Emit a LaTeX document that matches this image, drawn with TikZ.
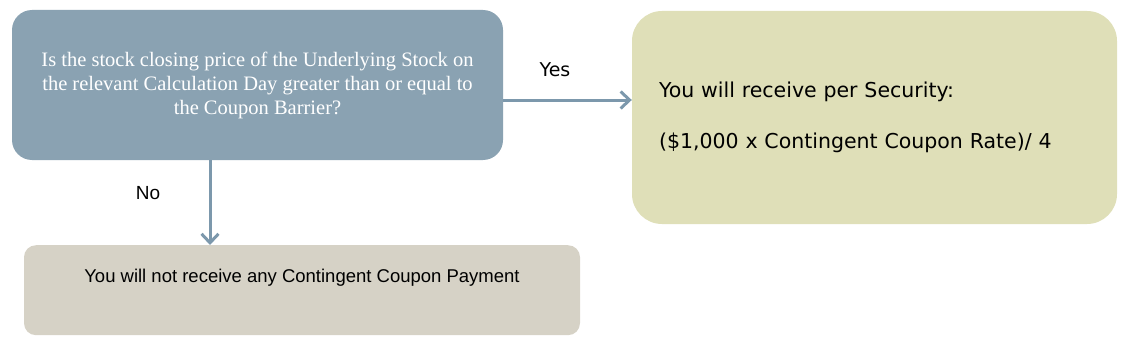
\documentclass[tikz,border=0pt]{standalone}
\usepackage{fontspec}
\setmainfont{Liberation Serif}
\newfontfamily\verdanafont{DejaVu Sans}
\newfontfamily\arialfont{Liberation Sans}
\usetikzlibrary{arrows.meta}
\definecolor{askfill}{RGB}{138,162,178}
\definecolor{yesfill}{RGB}{223,223,184}
\definecolor{nofill}{RGB}{214,210,198}
\definecolor{arrowcol}{RGB}{124,152,172}
\tikzset{
  askbox/.style={fill=askfill, rounded corners=20pt, text=white, align=center,
    font=\fontsize{20.5}{24}\selectfont},
  yesbox/.style={fill=yesfill, rounded corners=30pt, align=left,
    font=\verdanafont\fontsize{20.5}{25}\selectfont},
  nobox/.style={fill=nofill, rounded corners=12pt, inner ysep=0pt,
    font=\arialfont\fontsize{18.5}{22}\selectfont},
  flow/.style={draw=arrowcol, line width=3pt, -{Straight Barb[length=9pt,width=17pt,line width=3pt]}},
  answer/.style={font=\verdanafont\fontsize{19}{22}\selectfont}
}
\begin{document}
\begin{tikzpicture}[x=1pt,y=-1pt]
\useasboundingbox (0,0) rectangle (1125,345);
\node[askbox, minimum width=491pt, minimum height=150pt] (ask) at (257.5,85)
  {Is the stock closing price of the Underlying Stock on\\
   the relevant Calculation Day greater than or equal to\\
   the Coupon Barrier?};
\node[yesbox, minimum width=485pt, minimum height=213pt, text width=431pt] (pay) at (874.5,117.5)
  {You will receive per Security:\\[26pt]
   (\$1,000 x Contingent Coupon Rate)/ 4};
\node[nobox, anchor=north, minimum width=556pt, text height=37pt, text depth=53pt] (nopay) at (302,245)
  {You will not receive any Contingent Coupon Payment};
\node[answer] (yes) at (555,70) {Yes};
\node[answer, font=\arialfont\fontsize{19}{22}\selectfont] (no) at (148,193) {No};
\draw[flow] (ask.east |- 0,100) -- (pay.west |- 0,100);
\draw[flow] (ask.south -| 210,0) -- (nopay.north -| 210,0);
\end{tikzpicture}
\end{document}
